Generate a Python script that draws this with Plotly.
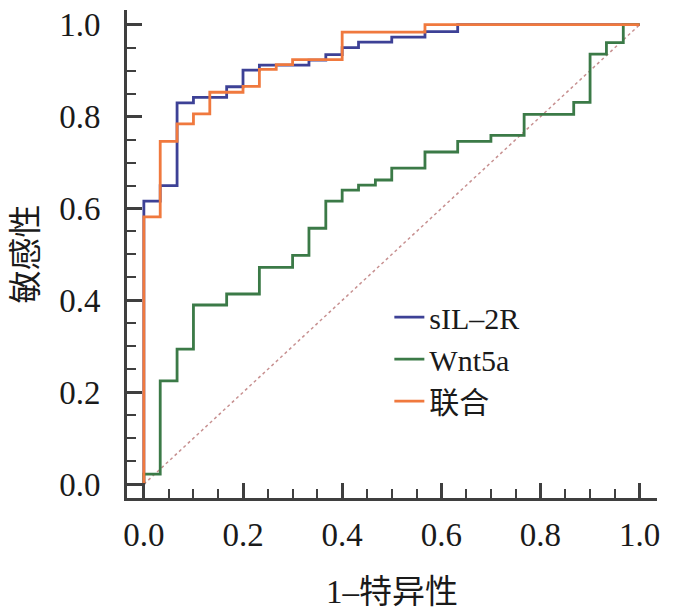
import plotly.graph_objects as go

# ROC curve points (1-specificity, sensitivity)
sil2r_fpr = [0, 0, 0.033, 0.067, 0.100, 0.167, 0.200, 0.233, 0.333, 0.367, 0.400, 0.433, 0.500, 0.567, 0.633, 1.0]
sil2r_tpr = [0, 0.616, 0.650, 0.830, 0.842, 0.865, 0.901, 0.912, 0.923, 0.935, 0.950, 0.962, 0.973, 0.985, 1.0, 1.0]

wnt5a_fpr = [0, 0, 0.033, 0.067, 0.100, 0.167, 0.233, 0.300, 0.333, 0.367, 0.400, 0.433, 0.467,
             0.500, 0.567, 0.633, 0.700, 0.767, 0.867, 0.900, 0.933, 0.967, 1.0]
wnt5a_tpr = [0, 0.022, 0.225, 0.294, 0.390, 0.414, 0.472, 0.498, 0.557, 0.616, 0.640, 0.651, 0.662,
             0.688, 0.723, 0.746, 0.759, 0.805, 0.831, 0.936, 0.961, 1.0, 1.0]

combined_fpr = [0, 0, 0.033, 0.067, 0.100, 0.133, 0.200, 0.233, 0.267, 0.300, 0.400, 0.567, 1.0]
combined_tpr = [0, 0.582, 0.746, 0.784, 0.806, 0.853, 0.866, 0.903, 0.913, 0.924, 0.984, 1.0, 1.0]

ref_x = [0, 1]
ref_y = [0, 1]

tick_vals = [0.0, 0.2, 0.4, 0.6, 0.8, 1.0]
tick_text = ['0.0', '0.2', '0.4', '0.6', '0.8', '1.0']

FONT = 'Liberation Serif, Times New Roman, Noto Sans CJK SC'
AXIS_COLOR = '#3f3f3f'

fig = go.Figure()

# chance line
fig.add_trace(go.Scatter(x=ref_x, y=ref_y, mode='lines', showlegend=False, hoverinfo='skip',
                         line=dict(color='#c79090', width=1.5, dash='dot')))

fig.add_trace(go.Scatter(x=sil2r_fpr, y=sil2r_tpr, mode='lines', name='sIL–2R',
                         line=dict(color='#3d4196', width=2.8, shape='hv')))
fig.add_trace(go.Scatter(x=wnt5a_fpr, y=wnt5a_tpr, mode='lines', name='Wnt5a',
                         line=dict(color='#3b7a47', width=2.8, shape='hv')))
fig.add_trace(go.Scatter(x=combined_fpr, y=combined_tpr, mode='lines', name='联合',
                         line=dict(color='#f0793e', width=2.8, shape='hv')))

axis_common = dict(
    tickvals=tick_vals, ticktext=tick_text,
    ticks='inside', ticklen=15, tickwidth=2.5, tickcolor=AXIS_COLOR,
    minor=dict(dtick=0.05, ticks='inside', ticklen=9, tickwidth=1.5, tickcolor=AXIS_COLOR),
    showline=True, linecolor=AXIS_COLOR, linewidth=3,
    showgrid=False, zeroline=False, automargin=False, ticklabeloverflow='allow',
    tickfont=dict(family=FONT, size=33, color='#1a1a1a'),
)

# page body adds an 8px offset, so margins are shifted to compensate
fig.update_layout(
    width=676, height=613,
    margin=dict(l=119, r=27, t=2, b=123),
    plot_bgcolor='white', paper_bgcolor='white',
    xaxis=dict(range=[-0.034, 1.035], ticklabelstandoff=5,
               title=dict(text='1–特异性', font=dict(family=FONT, size=33, color='#1a1a1a'), standoff=29),
               **axis_common),
    yaxis=dict(range=[-0.030, 1.032], ticklabelstandoff=17,
               title=dict(text='敏感性', font=dict(family=FONT, size=33, color='#1a1a1a'), standoff=20),
               **axis_common),
    legend=dict(x=0.495, y=0.424, xanchor='left', yanchor='top',
                font=dict(family=FONT, size=30, color='#1a1a1a'),
                bgcolor='rgba(0,0,0,0)', tracegroupgap=0),
    showlegend=True,
)

fig.write_html("out.html")
